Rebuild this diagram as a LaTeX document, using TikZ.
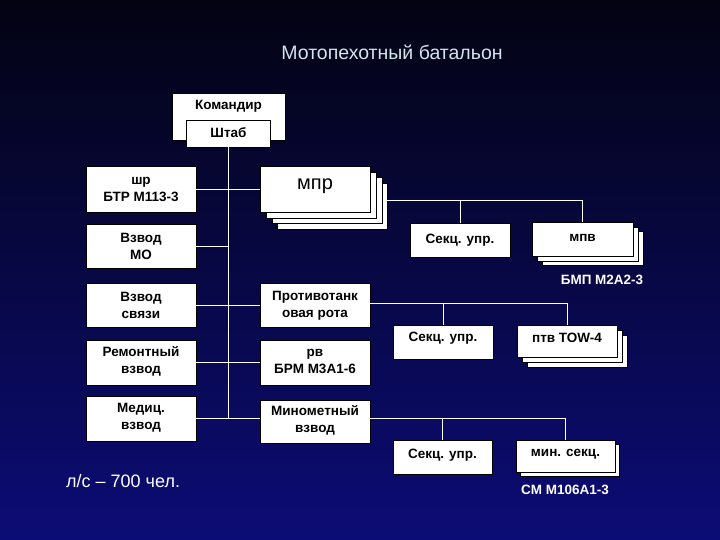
\documentclass[tikz,border=0pt]{standalone}
\usepackage{fontspec}
\setmainfont{Liberation Sans}
\pgfdeclarelayer{bg}
\pgfdeclarelayer{shadow}
\pgfsetlayers{bg,shadow,main}
\definecolor{bgtop}{RGB}{3,3,18}
\definecolor{bgbot}{RGB}{12,12,118}
\definecolor{titlec}{RGB}{214,228,238}
\tikzset{
  box/.style={draw=black, line width=0.5pt, fill=white, inner sep=0pt, outer sep=0pt},
  layer/.style={draw=black, line width=0.5pt, fill=white},
  lbl/.style={text=black, font=\fontsize{13.5}{17}\selectfont\bfseries, align=center, inner sep=0pt},
  wlbl/.style={text=white, font=\fontsize{13.5}{17}\selectfont\bfseries, inner sep=0pt},
  conn/.style={draw=white, line width=0.8pt}
}
\begin{document}
\begin{tikzpicture}[x=1pt, y=-1pt]
\useasboundingbox (0,0) rectangle (720,540);
\begin{pgfonlayer}{bg}
\shade[top color=bgtop, bottom color=bgbot] (0,0) rectangle (720,540);
\end{pgfonlayer}

% title
\node[text=titlec, font=\fontsize{19.5}{22}\selectfont, inner sep=0pt] (title) at (392,52) {Мотопехотный батальон};

% command
\node[box, minimum width=113pt, minimum height=47pt] (kom) at (228.5,116.5) {};
\node[lbl] (komt) at (228.5,106) {Командир};
\node[box, minimum width=84pt, minimum height=27pt] (shtab) at (228.5,133.5) {};
\node[lbl] (shtabt) at (228.5,133) {Штаб};

% left column
\node[box, minimum width=110pt, minimum height=46pt] (shr) at (141,189) {};
\node[lbl] (shrt) at (141,189.5) {шр\\БТР М113-3};
\node[box, minimum width=110pt, minimum height=44pt] (mo) at (141,246) {};
\node[lbl] (mot) at (141,246.5) {Взвод\\МО};
\node[box, minimum width=110pt, minimum height=44pt] (svyaz) at (141,305) {};
\node[lbl] (svyazt) at (141,305.5) {Взвод\\связи};
\node[box, minimum width=110pt, minimum height=45pt] (remont) at (141,362.5) {};
\node[lbl] (remontt) at (141,361.5) {Ремонтный\\взвод};
\node[box, minimum width=110pt, minimum height=45pt] (medic) at (141,418.5) {};
\node[lbl] (medict) at (141,418) {Медиц.\\взвод};

% middle column
\begin{pgfonlayer}{shadow}
\draw[layer] (277,183) rectangle (387,229);
\draw[layer] (272,177) rectangle (382,223);
\draw[layer] (266,172) rectangle (376,218);
\end{pgfonlayer}
\node[box, minimum width=110pt, minimum height=46pt] (mpr) at (315,189) {};
\node[text=black, font=\fontsize{20}{22}\selectfont, inner sep=0pt] (mprt) at (315,186) {мпр};
\node[box, minimum width=110pt, minimum height=44pt] (ptr) at (315,305) {};
\node[lbl] (ptrt) at (315,305.5) {Противотанк\\овая рота};
\node[box, minimum width=110pt, minimum height=45pt] (rv) at (315,362.5) {};
\node[lbl] (rvt) at (315,361.5) {рв\\БРМ М3А1-6};
\node[box, minimum width=110pt, minimum height=43pt] (minomet) at (315,421.5) {};
\node[lbl] (minomett) at (315,420) {Минометный\\взвод};

% right groups
\node[box, minimum width=100pt, minimum height=34pt] (sek1) at (460,240) {};
\node[lbl] (sek1t) at (460,240) {Секц. упр.};
\begin{pgfonlayer}{shadow}
\draw[layer] (542,231) rectangle (643,265);
\draw[layer] (537,227) rectangle (638,261);
\end{pgfonlayer}
\node[box, minimum width=101pt, minimum height=34pt] (mpv) at (582.5,239) {};
\node[lbl] (mpvt) at (582.5,237.5) {мпв};
\node[wlbl] (bmp) at (602,280) {БМП М2А2-3};

\node[box, minimum width=100pt, minimum height=34pt] (sek2) at (443,342) {};
\node[lbl] (sek2t) at (443,338.5) {Секц. упр.};
\begin{pgfonlayer}{shadow}
\draw[layer] (527,335) rectangle (627,367);
\draw[layer] (522,330) rectangle (622,362);
\end{pgfonlayer}
\node[box, minimum width=100pt, minimum height=32pt] (ptv) at (567,341) {};
\node[lbl] (ptvt) at (567,338) {птв TOW-4};

\node[box, minimum width=99pt, minimum height=34pt] (sek3) at (442.5,457) {};
\node[lbl] (sek3t) at (442.5,455) {Секц. упр.};
\begin{pgfonlayer}{shadow}
\draw[layer] (520,444) rectangle (619,476);
\end{pgfonlayer}
\node[box, minimum width=99pt, minimum height=32pt] (minsek) at (565.5,456) {};
\node[lbl] (minsekt) at (565.5,454) {мин. секц.};
\node[wlbl] (sm) at (565,490) {СМ М106А1-3};

\node[text=white, font=\fontsize{18}{20}\selectfont, anchor=west, inner sep=0pt] (ls) at (66,481) {л/с – 700 чел.};

% connectors
\coordinate (spineEnd) at (shtab.south |- medic.east);
\draw[conn] (shtab.south) -- (spineEnd);
\draw[conn] (shr.east) -- (mpr.west);
\draw[conn] (mo.east) -- (mo.east -| shtab.south);
\draw[conn] (svyaz.east) -- (ptr.west);
\draw[conn] (remont.east) -- (rv.west);
\draw[conn] (medic.east) -- (medic.east -| minomet.west);

\coordinate (busA) at (387,200);
\draw[conn] (busA) -- (busA -| mpv.north) -- (mpv.north);
\draw[conn] (sek1.north) -- (sek1.north |- busA);

\coordinate (busB) at (370,303);
\draw[conn] (busB) -- (busB -| ptv.north) -- (ptv.north);
\draw[conn] (sek2.north) -- (sek2.north |- busB);

\coordinate (busC) at (minomet.east |- medic.east);
\draw[conn] (busC) -- (busC -| minsek.north) -- (minsek.north);
\draw[conn] (sek3.north) -- (sek3.north |- busC);
\end{tikzpicture}
\end{document}
